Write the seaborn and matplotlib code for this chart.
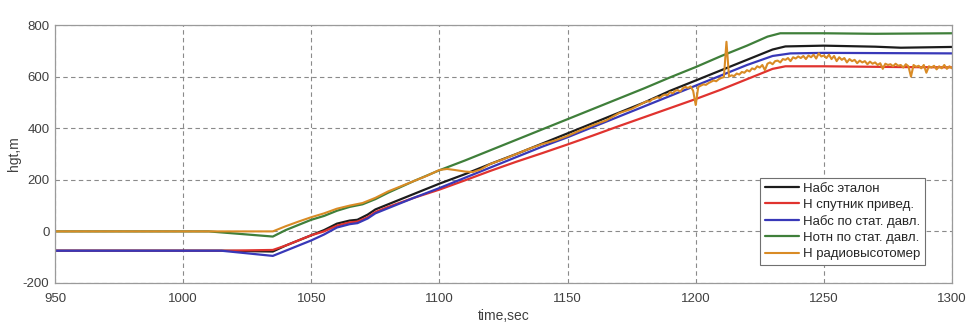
import numpy as np
import pandas as pd
import matplotlib
matplotlib.use("Agg")
import matplotlib.pyplot as plt
import seaborn as sns

# ---- data ----
t_black = [950, 1015, 1035, 1040, 1045, 1050, 1055, 1060, 1065, 1068, 1072, 1075, 1080, 1090, 1100,
           1110, 1120, 1130, 1140, 1150, 1160, 1170, 1180, 1190, 1200, 1210, 1220, 1230, 1235,
           1250, 1270, 1280, 1300]
h_black = [-75, -75, -78, -55, -35, -15, 5, 30, 42, 45, 65, 85, 105, 145, 185,
           222, 262, 300, 340, 380, 420, 460, 500, 545, 585, 625, 665, 705, 717,
           720, 716, 712, 715]

t_red = [950, 1015, 1035, 1040, 1045, 1050, 1055, 1060, 1065, 1068, 1072, 1075, 1080, 1090, 1100,
         1110, 1120, 1130, 1140, 1150, 1160, 1170, 1180, 1190, 1200, 1210, 1220, 1230, 1235,
         1250, 1280, 1300]
h_red = [-75, -75, -72, -55, -35, -15, 0, 22, 35, 38, 55, 75, 95, 130, 162,
         198, 235, 270, 303, 337, 372, 408, 443, 478, 513, 550, 590, 630, 640,
         640, 637, 636]

t_blue = [950, 1015, 1035, 1040, 1045, 1050, 1055, 1060, 1065, 1068, 1072, 1075, 1080, 1090, 1100,
          1110, 1120, 1130, 1140, 1150, 1160, 1170, 1180, 1190, 1200, 1210, 1220, 1230, 1237,
          1250, 1300]
h_blue = [-75, -75, -95, -75, -55, -35, -12, 15, 28, 32, 50, 70, 90, 130, 168,
          208, 248, 288, 328, 365, 405, 445, 485, 525, 565, 605, 645, 680, 690,
          692, 690]

t_green = [950, 1010, 1035, 1040, 1045, 1050, 1055, 1060, 1065, 1070, 1075, 1080, 1090, 1100,
           1110, 1120, 1130, 1140, 1150, 1160, 1170, 1180, 1190, 1200, 1210, 1220, 1228, 1233,
           1250, 1270, 1300]
h_green = [0, 0, -20, 5, 25, 45, 60, 80, 95, 105, 125, 150, 195, 237,
           275, 315, 355, 395, 435, 475, 515, 555, 597, 637, 680, 720, 755, 768,
           768, 766, 768]

# radio altimeter: coarse samples up to 1175 s, then 1 s samples to 1300 s
t_orange = [950, 1035, 1040, 1045, 1050, 1055, 1060, 1065, 1070, 1075, 1080, 1085, 1090, 1095, 1100,
            1103, 1106, 1110, 1113, 1116, 1120, 1125, 1130, 1135, 1140, 1145, 1150, 1155, 1160,
            1165, 1170, 1175] + list(range(1180, 1301))
h_orange = [0, 0, 20, 38, 55, 70, 88, 100, 110, 130, 155, 175, 195, 215, 238,
            242, 238, 232, 230, 240, 262, 280, 300, 320, 338, 352, 370, 392, 412,
            430, 458, 475,
            # 1180-1199
            500, 505, 503, 512, 515, 520, 517, 526, 530, 528, 540, 535, 545, 548, 542, 555, 560, 556, 562, 545,
            # 1200-1219
            490, 560, 565, 570, 568, 575, 580, 585, 582, 590, 595, 598, 735, 600, 605, 602, 612, 608, 618, 615,
            # 1220-1239
            625, 620, 632, 628, 640, 635, 645, 625, 650, 655, 648, 660, 662, 655, 668, 665, 672, 660, 675, 670,
            # 1240-1259
            678, 672, 680, 668, 682, 675, 685, 670, 690, 678, 682, 672, 685, 668, 680, 660, 675, 665, 672, 655,
            # 1260-1279
            668, 660, 665, 652, 662, 655, 660, 648, 658, 650, 655, 645, 652, 630, 650, 645, 648, 640, 650, 642,
            # 1280-1300
            645, 635, 648, 640, 600, 645, 638, 642, 632, 645, 615, 640, 635, 642, 628, 640, 632, 645, 630, 640, 632]

labels = ["Набс эталон", "Н спутник привед.", "Набс по стат. давл.",
          "Нотн по стат. давл.", "Н радиовысотомер"]
colors = ["#1c1c1c", "#e0332f", "#3838b8", "#3f7f3a", "#d98b25"]
widths = [1.6, 1.6, 1.6, 1.6, 1.5]

x_ticks = [950, 1000, 1050, 1100, 1150, 1200, 1250, 1300]
y_ticks = [-200, 0, 200, 400, 600, 800]

# ---- plot ----
sns.set_style("white")
plt.rcParams['font.family'] = ['Liberation Sans', 'DejaVu Sans']
plt.rcParams['axes.unicode_minus'] = False

fig = plt.figure(figsize=(9.75, 3.27), dpi=100)
ax = fig.add_axes([0.0564, 0.1346, 0.9200, 0.7889])

series = [(t_black, h_black), (t_red, h_red), (t_blue, h_blue),
          (t_green, h_green), (t_orange, h_orange)]
for (t, h), lab, c, w in zip(series, labels, colors, widths):
    df = pd.DataFrame({"time": t, "hgt": h})
    sns.lineplot(data=df, x="time", y="hgt", ax=ax, color=c, linewidth=w,
                 label=lab, estimator=None, sort=False)

ax.set_xlim(950, 1300)
ax.set_ylim(-200, 800)
ax.set_xticks(x_ticks)
ax.set_yticks(y_ticks)
ax.tick_params(axis='both', labelsize=9.5, colors="#404040", length=0)
ax.tick_params(axis='x', pad=7)
ax.tick_params(axis='y', pad=4)
ax.grid(True, linestyle=(0, (4, 3)), color="#8a8a8a", linewidth=0.8)
for s in ax.spines.values():
    s.set_color("#9a9a9a")
    s.set_linewidth(0.9)
ax.set_xlabel("time,sec", fontsize=10, color="#404040", labelpad=3)
ax.set_ylabel("hgt,m", fontsize=10, color="#404040", labelpad=1)

leg = ax.legend(loc="lower right", bbox_to_anchor=(0.97, 0.07), fontsize=9.5,
                frameon=True, fancybox=False, edgecolor="#707070", framealpha=1,
                handlelength=2.6, handletextpad=0.3, labelspacing=0.3,
                borderpad=0.35, borderaxespad=0)
leg.get_frame().set_linewidth(0.8)

fig.savefig("out.png", dpi=100)
